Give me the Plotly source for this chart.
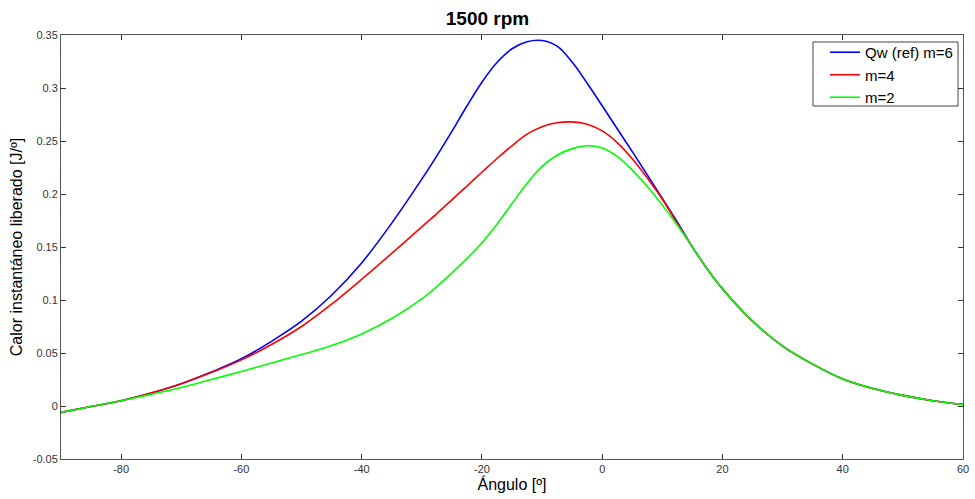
import plotly.graph_objects as go

angles = [-90, -85, -80, -75, -70, -65, -60, -55, -50, -45, -40, -35, -30, -27.5, -25,
          -22.5, -20, -17.5, -15, -12.5, -10, -7.5, -5, -2.5, 0, 2.5, 5, 7.5, 10, 12.5,
          15, 17.5, 20, 25, 30, 35, 40, 45, 50, 55, 60]

q_m6 = [-0.006, -0.0005, 0.005, 0.0122, 0.021, 0.032, 0.0445, 0.061, 0.080, 0.1045,
        0.135, 0.1725, 0.2140, 0.2360, 0.2590, 0.2830, 0.3055, 0.3240, 0.337, 0.3437,
        0.3448, 0.3395, 0.3245, 0.3045, 0.2832, 0.2615, 0.2400, 0.2180, 0.1958, 0.1735,
        0.150, 0.129, 0.1105, 0.080, 0.0565, 0.0395, 0.0255, 0.0165, 0.010, 0.005, 0.0015]

q_m4 = [-0.006, -0.0005, 0.005, 0.0122, 0.021, 0.0315, 0.0435, 0.058, 0.075, 0.096,
        0.1195, 0.144, 0.169, 0.1815, 0.1945, 0.2075, 0.2205, 0.2335, 0.2455, 0.2565,
        0.2635, 0.2672, 0.268, 0.2658, 0.2595, 0.2485, 0.2332, 0.215, 0.195, 0.172,
        0.150, 0.129, 0.1105, 0.080, 0.0565, 0.0395, 0.0255, 0.0165, 0.010, 0.005, 0.0015]

q_m2 = [-0.006, -0.0005, 0.005, 0.011, 0.0175, 0.0250, 0.0325, 0.0405, 0.0485, 0.057,
        0.068, 0.0825, 0.1010, 0.1125, 0.1255, 0.139, 0.154, 0.1715, 0.191, 0.210,
        0.226, 0.2365, 0.2428, 0.2455, 0.2435, 0.2355, 0.2225, 0.207, 0.1895, 0.1705,
        0.150, 0.129, 0.1105, 0.080, 0.0565, 0.0395, 0.0255, 0.0165, 0.010, 0.005, 0.0015]

series_names = ["Qw (ref) m=6", "m=4", "m=2"]
series_colors = ["#0000ff", "#ff0000", "#00ff00"]

x_tickvals = [-80, -60, -40, -20, 0, 20, 40, 60]
x_ticktext = ["-80", "-60", "-40", "-20", "0", "20", "40", "60"]
y_tickvals = [-0.05, 0, 0.05, 0.1, 0.15, 0.2, 0.25, 0.3, 0.35]
y_ticktext = ["-0.05", "0", "0.05", "0.1", "0.15", "0.2", "0.25", "0.3", "0.35"]

fig = go.Figure()
for name, vals, col in zip(series_names, [q_m6, q_m4, q_m2], series_colors):
    fig.add_trace(go.Scatter(x=angles, y=vals, mode="lines", name=name,
                             line=dict(color=col, width=1.6, shape="spline", smoothing=1.0)))

axis_common = dict(showgrid=False, zeroline=False, showline=True, linecolor="#555",
                   linewidth=1, mirror="ticks", ticks="inside", ticklen=5, tickcolor="#333",
                   ticklabeloverflow="allow",
                   tickfont=dict(family="Liberation Sans, Arial", size=11, color="#333"))

# legend frame (MATLAB-style compact box)
fig.add_shape(type="rect", xref="paper", yref="paper",
              x0=0.8337, x1=0.9945, y0=0.8325, y1=0.9835,
              line=dict(color="#444", width=1), fillcolor="white", layer="above")

fig.update_layout(
    width=975, height=499,
    paper_bgcolor="white", plot_bgcolor="white",
    margin=dict(l=61, r=6, t=35, b=40),
    font=dict(family="Liberation Sans, Arial", color="#000"),
    title=dict(text="<b>1500 rpm</b>", x=0.5, xanchor="center", y=0.964, yanchor="middle",
               font=dict(family="Liberation Sans, Arial", size=19, color="#000")),
    xaxis=dict(range=[-90, 60], tickvals=x_tickvals, ticktext=x_ticktext,
               title=dict(text="Ángulo [º]", font=dict(size=16, color="#000"), standoff=4),
               **axis_common),
    yaxis=dict(range=[-0.05, 0.35], tickvals=y_tickvals, ticktext=y_ticktext,
               title=dict(text="Calor instantáneo liberado [J/º]", font=dict(size=16, color="#000"),
                          standoff=6),
               **axis_common),
    legend=dict(x=0.9945, y=0.9977, xanchor="right", yanchor="top",
                bgcolor="rgba(0,0,0,0)", borderwidth=0,
                font=dict(family="Liberation Sans, Arial", size=15, color="#000"),
                tracegroupgap=0, itemwidth=30),
    showlegend=True,
)

fig.write_html("out.html")
